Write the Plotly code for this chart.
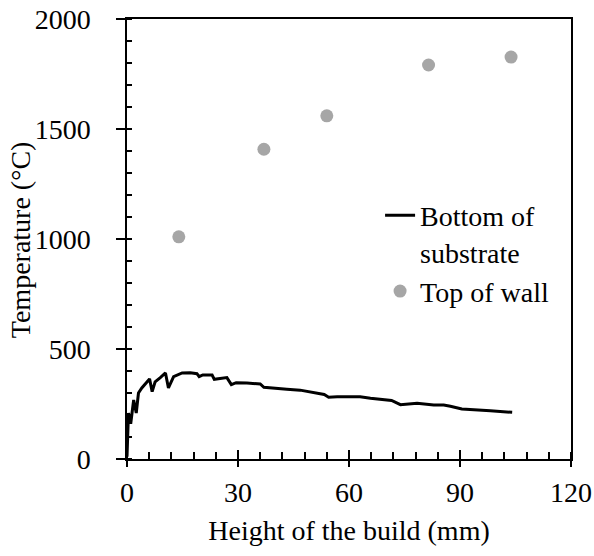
import plotly.graph_objects as go

# Bottom of substrate (line)
bottom_x = [0.0, 0.4, 1.0, 1.8, 2.5, 3.1, 4.0, 5.0, 6.1, 6.8, 7.6, 9.0, 10.4, 11.2, 12.6, 14.9, 17.1, 18.9,
            19.5, 20.5, 23.0, 23.6, 27.0, 28.2, 29.5, 32.4, 36.0, 37.0, 40.5, 43.2, 46.8,
            52.2, 53.3, 54.5, 56.8, 63.0, 65.8, 71.5, 73.9, 78.4, 82.9, 85.6, 87.4, 90.5,
            95.5, 98.2, 104.1]
bottom_y = [10, 209, 160, 268, 209, 300, 323, 345, 364, 306, 351, 370, 391, 323, 374, 391, 392, 388,
            374, 382, 382, 362, 370, 338, 347, 345, 341, 326, 319, 317, 313,
            299, 293, 281, 283, 283, 276, 266, 247, 253, 245, 245, 240, 227,
            220, 219, 212]

# Top of wall (points)
top_x = [14.0, 37.0, 54.0, 81.5, 103.8]
top_y = [1010, 1408, 1560, 1791, 1827]

x_range = [0, 120]
y_range = [0, 2000]

FONT = "Liberation Serif, Times New Roman, serif"
FS = 28

fig = go.Figure()
fig.add_trace(go.Scatter(x=bottom_x, y=bottom_y, mode="lines",
                         line=dict(color="black", width=3),
                         name="Bottom of<br>substrate"))
fig.add_trace(go.Scatter(x=top_x, y=top_y, mode="markers",
                         marker=dict(color="#A6A6A6", size=13),
                         name="Top of wall"))
# helper trace on overlay axis to show crossing major ticks
fig.add_trace(go.Scatter(x=[None], y=[None], xaxis="x2", showlegend=False, hoverinfo="skip"))

fig.update_layout(
    width=594, height=556,
    margin=dict(l=127, r=23, t=19, b=97, autoexpand=False),
    paper_bgcolor="white", plot_bgcolor="white",
    font=dict(family=FONT, size=FS, color="black"),
    showlegend=True,
    legend=dict(x=0.57, y=0.61, xanchor="left", yanchor="top",
                bgcolor="rgba(0,0,0,0)", font=dict(family=FONT, size=FS),
                valign="top", tracegroupgap=0, itemwidth=30),
    xaxis=dict(range=x_range, dtick=30, tick0=0, showgrid=False, zeroline=False,
               automargin=True,
               showline=True, linecolor="black", linewidth=1.5, mirror=True,
               ticks="outside", ticklen=6, tickwidth=1.5, tickcolor="black",
               minor=dict(dtick=6, ticks="inside", ticklen=7, tickwidth=1.5, tickcolor="black"),
               title=dict(text="Height of the build (mm)", standoff=13,
                          font=dict(family=FONT, size=FS)),
               ticklabelstandoff=2,
               tickfont=dict(family=FONT, size=FS)),
    xaxis2=dict(overlaying="x", matches="x", anchor="y", side="bottom",
                range=x_range, dtick=30, tick0=0, showgrid=False, zeroline=False,
                automargin=False,
                showline=False, ticks="inside", ticklen=9, tickwidth=1.5,
                tickcolor="black", showticklabels=False),
    yaxis=dict(range=y_range, dtick=500, tick0=0, showgrid=False, zeroline=False,
               automargin=False,
               showline=True, linecolor="black", linewidth=1.5, mirror=True,
               ticks="outside", ticklen=9, tickwidth=1.5, tickcolor="black",
               minor=dict(dtick=100, ticks="inside", ticklen=5, tickwidth=1.5, tickcolor="black"),
               ticklabelstandoff=20,
               tickfont=dict(family=FONT, size=FS)),
    annotations=[dict(text="Temperature (°C)", textangle=-90, showarrow=False,
                      xref="paper", yref="paper", x=-0.238, y=0.498,
                      xanchor="center", yanchor="middle",
                      font=dict(family=FONT, size=FS, color="black"))],
)

fig.write_html("out.html")
